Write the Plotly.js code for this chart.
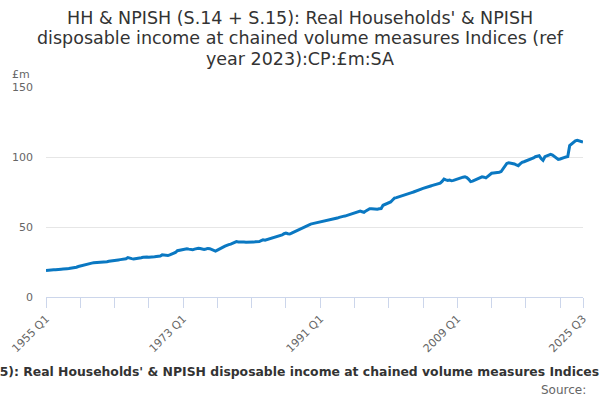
<!DOCTYPE html>
<html>
<head>
<meta charset="utf-8">
<script src="https://cdn.plot.ly/plotly-3.0.1.min.js"></script>
<style>html,body{margin:0;padding:0;background:#fff}#chart{width:600px;height:400px}</style>
</head>
<body>
<div id="chart"></div>
<script>
// Quarterly series 1955 Q1 .. 2025 Q3
const startYear = 1955;
const values = [
  19.0, 19.2, 19.1, 19.4,   // 1955
  19.5, 19.4, 19.7, 19.8,   // 1956
  19.9, 20.0, 19.9, 20.2,   // 1957
  20.3, 20.5, 20.6, 20.9,   // 1958
  21.3, 21.8, 22.2, 22.6,   // 1959
  23.1, 23.5, 23.8, 24.0,   // 1960
  24.2, 24.4, 24.5, 24.5,   // 1961
  24.4, 24.6, 24.6, 24.9,   // 1962
  25.2, 25.5, 25.6, 25.9,   // 1963
  26.2, 26.4, 26.5, 26.7,   // 1964
  26.9, 27.0, 27.3, 28.2,   // 1965
  27.6, 27.4, 27.2, 27.3,   // 1966
  27.6, 27.9, 28.1, 28.4,   // 1967
  28.7, 28.5, 28.4, 28.7,   // 1968
  28.9, 28.8, 29.0, 29.1,   // 1969
  29.3, 30.1, 29.8, 29.4,   // 1970
  29.6, 30.1, 30.5, 31.0,   // 1971
  31.8, 33.1, 33.4, 33.9,   // 1972
  34.4, 34.7, 34.5, 34.2,   // 1973
  33.8, 33.7, 34.2, 34.6,   // 1974
  34.8, 34.6, 34.2, 34.0,   // 1975
  34.3, 34.7, 34.5, 33.9,   // 1976
  33.2, 32.8, 33.5, 34.4,   // 1977
  34.9, 35.6, 36.3, 37.0,   // 1978
  37.4, 37.8, 38.5, 39.3,   // 1979
  39.6, 39.3, 39.4, 39.5,   // 1980
  39.2, 39.1, 39.0, 38.9,   // 1981
  39.0, 39.2, 39.4, 39.3,   // 1982
  39.6, 40.2, 40.8, 40.6,   // 1983
  41.0, 41.3, 41.8, 42.6,   // 1984
  42.9, 43.2, 43.5, 43.9,   // 1985
  44.3, 45.2, 45.7, 45.2,   // 1986
  45.0, 45.6, 46.3, 47.0,   // 1987
  47.6, 48.2, 48.7, 49.6,   // 1988
  50.4, 51.0, 51.6, 52.1,   // 1989
  52.4, 52.7, 52.9, 53.2,   // 1990
  53.4, 53.6, 54.0, 54.3,   // 1991
  54.6, 54.9, 55.3, 55.6,   // 1992
  55.9, 56.4, 56.9, 57.5,   // 1993
  57.6, 57.8, 58.3, 58.7,   // 1994
  59.1, 59.4, 59.9, 60.6,   // 1995
  61.0, 61.3, 60.9, 60.5,   // 1996
  61.5, 62.4, 63.0, 63.1,   // 1997
  62.9, 62.8, 62.7, 63.0,   // 1998
  63.2, 65.5, 66.2, 66.9,   // 1999
  67.3, 67.9, 69.3, 70.6,   // 2000
  71.0, 71.5, 72.1, 72.4,   // 2001
  72.8, 73.4, 73.7, 74.2,   // 2002
  74.6, 75.0, 75.4, 75.9,   // 2003
  76.5, 77.1, 77.6, 77.9,   // 2004
  78.4, 78.9, 79.3, 79.7,   // 2005
  80.2, 80.5, 81.0, 81.3,   // 2006
  82.5, 84.2, 83.6, 83.2,   // 2007
  83.5, 83.0, 83.3, 83.8,   // 2008
  84.6, 85.1, 85.3, 85.6,   // 2009
  85.8, 85.3, 84.1, 82.4,   // 2010
  82.8, 83.4, 83.9, 84.5,   // 2011
  85.3, 85.8, 85.6, 85.1,   // 2012
  86.2, 87.5, 88.4, 88.6,   // 2013
  88.7, 88.9, 89.1, 89.6,   // 2014
  91.8, 93.6, 95.4, 95.9,   // 2015
  95.7, 95.3, 95.0, 94.3,   // 2016
  93.8, 95.1, 96.2, 96.6,   // 2017
  97.1, 97.6, 98.2, 98.6,   // 2018
  99.3, 100.2, 100.6, 100.9, // 2019
  98.9, 97.6, 100.2, 100.9, // 2020
  101.5, 101.9, 101.4, 100.4, // 2021
  99.6, 98.3, 98.6, 99.4,   // 2022
  99.6, 100.0, 100.3, 108.1, // 2023
  109.2, 110.5, 111.6, 112.0, // 2024
  111.6, 111.2, 110.7        // 2025
];
const categories = values.map((v, i) => (startYear + Math.floor(i / 4)) + ' Q' + (i % 4 + 1));
const labelledTicks = ['1955 Q1', '1973 Q1', '1991 Q1', '2009 Q1', '2025 Q3'];
const tickStep = 18;
const yTicks = [0, 50, 100, 150];

const tickvals = [];
for (let i = 0; i < categories.length; i += tickStep) tickvals.push(categories[i]);
if (tickvals[tickvals.length - 1] !== categories[categories.length - 1]) tickvals.push(categories[categories.length - 1]);
const ticktext = tickvals.map(c => labelledTicks.includes(c) ? c : '');

const titleLines = [
  "HH & NPISH (S.14 + S.15): Real Households' & NPISH",
  "disposable income at chained volume measures Indices (ref",
  "year 2023):CP:£m:SA"
];
const captionText = "HH & NPISH (S.14 + S.15): Real Households' & NPISH disposable income at chained volume measures Indices (ref year 2023):CP:£m:SA";
const unitLabel = '£m';
const sourceLabel = 'Source:';

const font = 'DejaVu Sans, sans-serif';
const titleY = [1.3276, 1.2324, 1.1348];

const annotations = titleLines.map((t, i) => ({
  text: t, xref: 'paper', yref: 'paper', x: 0.473, y: titleY[i],
  xanchor: 'center', yanchor: 'middle', showarrow: false,
  font: {family: font, size: 17.5, color: '#333'}
}));
annotations.push(
  {text: unitLabel, xref: 'paper', yref: 'paper', x: -0.067, y: 1.061, xanchor: 'left', yanchor: 'middle', showarrow: false, font: {family: font, size: 11, color: '#666'}},
  {text: '<b>' + captionText + '</b>', xref: 'paper', yref: 'paper', x: 0.4886, y: -0.357, xanchor: 'center', yanchor: 'middle', showarrow: false, font: {family: font, size: 12.4, color: '#333'}},
  {text: sourceLabel, xref: 'paper', yref: 'paper', x: 1.0093, y: -0.445, xanchor: 'right', yanchor: 'middle', showarrow: false, font: {family: font, size: 12, color: '#666'}}
);

Plotly.newPlot('chart', [{
  x: categories,
  y: values,
  type: 'scatter',
  mode: 'lines',
  line: {color: '#0a78c2', width: 3},
  hoverinfo: 'x+y'
}], {
  width: 600, height: 400,
  margin: {l: 46, r: 17, t: 87, b: 103},
  paper_bgcolor: '#fff', plot_bgcolor: '#fff',
  showlegend: false,
  font: {family: font, color: '#666'},
  xaxis: {
    type: 'category',
    range: [0, categories.length - 1],
    tickmode: 'array', tickvals: tickvals, ticktext: ticktext,
    tickangle: -45,
    ticks: 'outside', ticklen: 10, tickcolor: '#ccd6eb', tickwidth: 1,
    showline: true, linecolor: '#ccd6eb', linewidth: 1,
    showgrid: false, zeroline: false,
    tickfont: {family: font, size: 11, color: '#666'}
  },
  yaxis: {
    range: [0, 150],
    tickmode: 'array', tickvals: yTicks,
    showgrid: true, gridcolor: '#e6e6e6', gridwidth: 1,
    zeroline: false, showline: false, ticks: '',
    ticklabelstandoff: 12,
    tickfont: {family: font, size: 11, color: '#666'}
  },
  annotations: annotations
}, {displayModeBar: false});
</script>
</body>
</html>
